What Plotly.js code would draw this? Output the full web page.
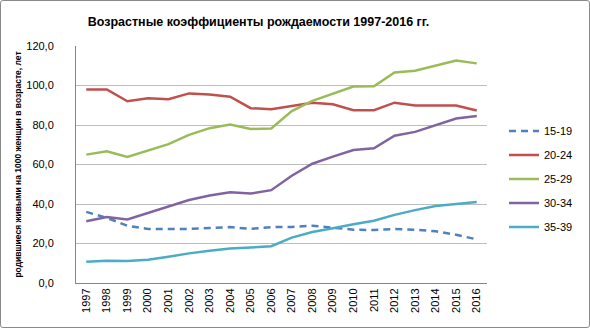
<!DOCTYPE html>
<html><head><meta charset="utf-8">
<script src="https://cdn.plot.ly/plotly-3.0.1.min.js"></script>
<style>
html,body{margin:0;padding:0;background:#fff;}
#chart{width:590px;height:328px;position:absolute;left:0;top:0;}
#frame{position:absolute;left:0;top:0;width:590px;height:328px;box-sizing:border-box;border:1px solid #8a8a8a;border-radius:3px;pointer-events:none;}
</style></head>
<body>
<div id="chart"></div><div id="frame"></div>
<script>
const years = ['1997','1998','1999','2000','2001','2002','2003','2004','2005','2006','2007','2008','2009','2010','2011','2012','2013','2014','2015','2016'];
const seriesNames = ['15-19','20-24','25-29','30-34','35-39'];
const s15_19 = [36.0,33.0,29.0,27.4,27.4,27.4,27.8,28.3,27.4,28.3,28.4,29.0,28.0,27.0,26.8,27.3,27.0,26.2,24.4,22.1];
const s20_24 = [98.0,98.0,92.0,93.5,93.0,96.0,95.5,94.3,88.5,88.0,89.6,91.3,90.5,87.5,87.5,91.3,89.9,90.0,89.9,87.3];
const s25_29 = [65.0,66.7,63.8,67.0,70.3,75.0,78.4,80.2,78.0,78.2,87.0,92.2,95.7,99.5,99.6,106.6,107.5,110.0,112.6,111.2];
const s30_34 = [31.3,33.4,32.2,35.4,38.5,42.0,44.3,46.0,45.3,47.0,54.3,60.4,64.0,67.3,68.2,74.6,76.5,80.1,83.3,84.6];
const s35_39 = [10.8,11.3,11.1,11.8,13.3,15.0,16.3,17.5,18.0,18.6,23.0,25.8,27.7,29.8,31.5,34.5,36.9,39.0,40.0,41.0];
const yTicks = [0,20,40,60,80,100,120];

const values = [s15_19,s20_24,s25_29,s30_34,s35_39];
const colors = ['#4F81BD','#C0504D','#9BBB59','#8064A2','#4BACC6'];
const dashes = ['7px,5px','solid','solid','solid','solid'];

const traces = values.map((v,i)=>({
  x: years, y: v, type:'scatter', mode:'lines', name: seriesNames[i],
  legendgroup: 'g'+i,
  line:{color:colors[i], width:2.5, dash:dashes[i]},
  hoverinfo:'none'
}));

const L=76, R=487, T=46, B=283;
const layout = {
  width:590, height:328,
  margin:{l:L, r:590-R, t:T, b:328-B, pad:0},
  paper_bgcolor:'#fff', plot_bgcolor:'#fff',
  separators:', ',
  font:{family:'Liberation Sans, Arial, sans-serif', size:11, color:'#000'},
  title:{text:'<b>Возрастные коэффициенты рождаемости 1997-2016 гг.</b>', font:{size:12.5, family:'Liberation Sans, Arial, sans-serif'}, x:262/590, xref:'paper', xanchor:'center', y:1-22/328, yanchor:'middle'},
  xaxis:{type:'category', tickangle:-90, showgrid:false, showline:true, linecolor:'#868686', linewidth:1,
         ticks:'', tickfont:{size:11}, range:[-0.5,19.5], fixedrange:true},
  yaxis:{range:[0,120], tickvals:yTicks, tickformat:'.1f', showgrid:true, gridcolor:'#bdbdbd', gridwidth:1,
         showline:true, linecolor:'#868686', linewidth:1, zeroline:false, ticks:'', ticklen:0,
         ticklabelstandoff:19,
         tickfont:{size:11}, fixedrange:true,
         title:{text:'<b>родившиеся живыми на 1000 женщин в возрасте, лет</b>', font:{size:8.5}, standoff:3}},
  showlegend:true,
  legend:{x:(504-L)/(R-L), xanchor:'left', y:(B-116.5)/(B-T), yanchor:'top', tracegroupgap:5,
          font:{size:11}, bgcolor:'rgba(0,0,0,0)', itemwidth:30, traceorder:'grouped'}
};
Plotly.newPlot('chart', traces, layout, {staticPlot:true, displayModeBar:false});
</script>
</body></html>
